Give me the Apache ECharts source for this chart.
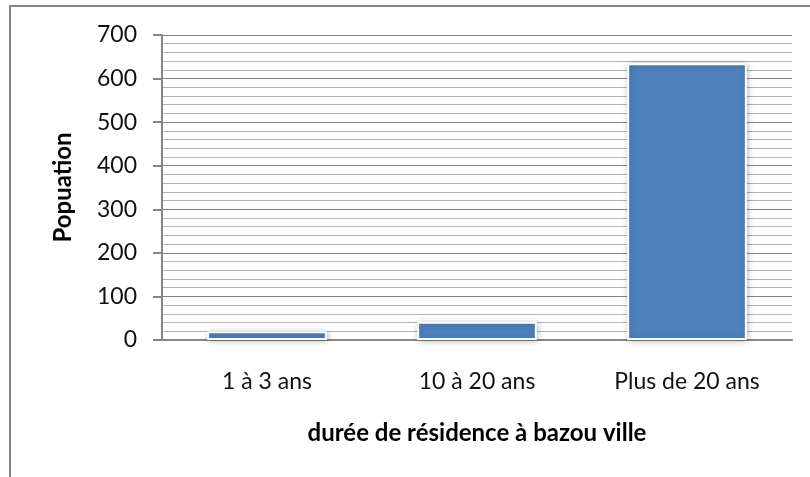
<!DOCTYPE html>
<html style="height: 100%">
<head>
<meta charset="utf-8">
<script type="text/javascript" src="https://cdn.jsdelivr.net/npm/echarts@6/dist/echarts.min.js"></script>
</head>
<body style="height: 100%; margin: 0; background: #fff">
<div id="container" style="width: 810px; height: 477px"></div>
<script type="text/javascript">
var categories = ['1 à 3 ans', '10 à 20 ans', 'Plus de 20 ans'];
var population = [20, 42, 635];
var yTicks = { min: 0, max: 700, interval: 100 };

var myChart = echarts.init(document.getElementById('container'));
var option = {
    animation: false,
    textStyle: { fontFamily: 'Lato' },
    graphic: [{
        type: 'polyline',
        shape: { points: [[10, 477], [10, 6], [810, 6]] },
        style: { stroke: '#868686', lineWidth: 2, fill: null }
    }],
    grid: { left: 162, right: 18, top: 35, bottom: 137 },
    xAxis: {
        type: 'category',
        data: categories,
        name: 'durée de résidence à bazou ville',
        nameLocation: 'middle',
        nameGap: 81,
        nameTextStyle: { fontSize: 24, fontWeight: 'bold', color: '#000' },
        axisLine: { lineStyle: { color: '#868686', width: 2 } },
        axisTick: { show: false },
        axisLabel: { fontSize: 23, color: '#111', margin: 30 }
    },
    yAxis: {
        type: 'value',
        min: yTicks.min,
        max: yTicks.max,
        interval: yTicks.interval,
        name: 'Popuation',
        nameLocation: 'middle',
        nameGap: 87,
        nameTextStyle: { fontSize: 24, fontWeight: 'bold', color: '#000' },
        axisLine: { show: true, lineStyle: { color: '#868686', width: 2 } },
        axisTick: { show: true, length: 9, lineStyle: { color: '#868686', width: 2 } },
        axisLabel: { fontSize: 23, color: '#111', margin: 25 },
        splitLine: { lineStyle: { color: '#868686', width: 1 } },
        minorTick: { show: false, splitNumber: 5 },
        minorSplitLine: { show: true, lineStyle: { color: '#b3b3b3', width: 1 } }
    },
    series: [{
        type: 'bar',
        data: population,
        barWidth: '57%',
        itemStyle: {
            color: '#4f81bd',
            borderColor: '#fff',
            borderWidth: 2,
            shadowColor: 'rgba(0,0,0,0.25)',
            shadowBlur: 6,
            shadowOffsetX: 1,
            shadowOffsetY: 1
        }
    }]
};
myChart.setOption(option);
</script>
</body>
</html>
